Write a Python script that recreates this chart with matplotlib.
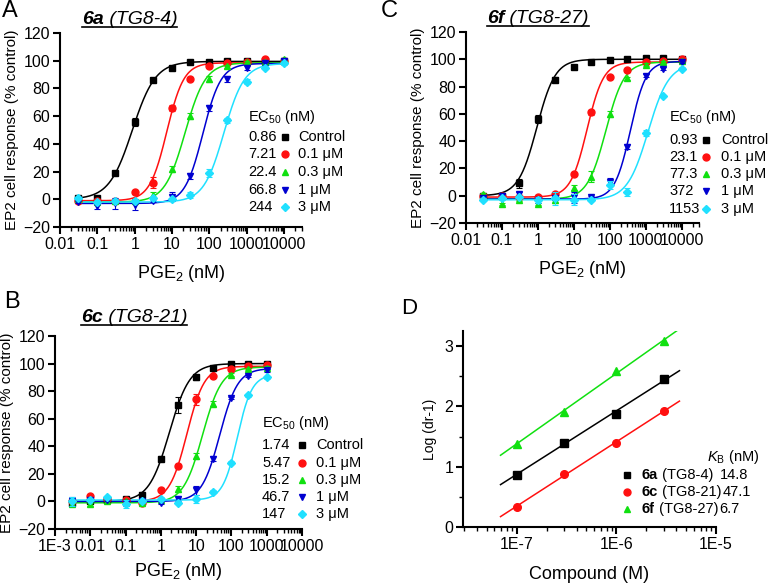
import numpy as np
import matplotlib
matplotlib.use('Agg')
import matplotlib.pyplot as plt
from matplotlib.ticker import FixedLocator, FixedFormatter, LogLocator, NullFormatter, MultipleLocator
from matplotlib.lines import Line2D

plt.rcParams['font.family'] = ['Liberation Sans', 'DejaVu Sans']
plt.rcParams['mathtext.fontset'] = 'custom'
plt.rcParams['mathtext.rm'] = 'Liberation Sans'
plt.rcParams['mathtext.it'] = 'Liberation Sans:italic'
plt.rcParams['mathtext.bf'] = 'Liberation Sans:bold'

# ---------------- data ----------------
series_labels = ['Control', '0.1 μM', '0.3 μM', '1 μM', '3 μM']
colors = ['#000000', '#FF1010', '#10E010', '#0000D0', '#20E0FF']
markers = ['s', 'o', '^', 'v', 'D']

# Panel A : 6a (TG8-4)
dose_A = [0.03, 0.1, 0.3, 1, 3, 10, 30, 100, 300, 1000, 3000, 10000]
resp_A = [
    [1, 1, 19, 56, 86, 95, 99, 99, 100, 100, 100, 100],
    [-1, -1, -1, 5, 12, 66, 87, 96, 98, 99, 101, 100],
    [0, -2, -1, -1, 3, 22, 60, 87, 96, 99, 99, 101],
    [-2, -5, -3, -4, -1, 2, 17, 66, 87, 95, 98, 100],
    [1, -2, -1, -1, 1, 0, 3, 19, 57, 85, 95, 98],
]
err_A = [
    [1, 1, 1, 3, 1, 1, 1, 1, 1, 1, 1, 1],
    [1, 1, 1, 1, 4, 2, 1, 1, 1, 1, 1, 1],
    [1, 1, 1, 1, 2, 2, 2, 2, 1, 1, 1, 1],
    [1, 2, 4, 4, 1, 3, 2, 2, 2, 2, 1, 1],
    [1, 1, 1, 1, 1, 1, 2, 3, 2, 2, 1, 1],
]
ec50_A = [0.86, 7.21, 22.4, 66.8, 244]
ec50_text_A = ['0.86', '7.21', '22.4', '66.8', '244']
hill_A = [1.4, 1.9, 1.6, 1.8, 1.6]
bottom_A = [0, -1, -2, -3, -2]
top_A = [99.5, 98.5, 98.5, 98, 98]

# Panel B : 6c (TG8-21)
dose_B = [0.003, 0.01, 0.03, 0.1, 0.3, 1, 3, 10, 30, 100, 300, 1000]
resp_B = [
    [-1, 0, 1, 2, 5, 31, 70, 90, 97, 100, 100, 100],
    [0, 4, 2, 1, -1, 8, 26, 74, 91, 96, 98, 99],
    [-2, -2, 0, 0, -1, 1, 9, 33, 71, 92, 96, 97],
    [0, 1, 1, -1, 0, -1, 2, 8, 31, 75, 91, 95],
    [0, 1, 3, -2, 0, 2, -1, 2, 7, 28, 77, 90],
]
err_B = [
    [1, 1, 1, 1, 2, 2, 6, 2, 1, 1, 1, 1],
    [1, 1, 1, 1, 1, 1, 1, 4, 1, 1, 1, 1],
    [1, 1, 1, 1, 1, 1, 2, 2, 2, 1, 1, 1],
    [3, 1, 1, 2, 1, 1, 2, 3, 2, 1, 1, 1],
    [3, 1, 1, 3, 1, 1, 1, 3, 1, 1, 1, 1],
]
ec50_B = [1.74, 5.47, 15.2, 46.7, 147]
ec50_text_B = ['1.74', '5.47', '15.2', '46.7', '147']
hill_B = [1.5, 1.75, 1.6, 1.7, 2.1]
bottom_B = [0, 0, -1, 0, 1]
top_B = [100, 98, 97.5, 96.5, 92]

# Panel C : 6f (TG8-27)
dose_C = [0.03, 0.1, 0.3, 1, 3, 10, 30, 100, 300, 1000, 3000, 10000]
resp_C = [
    [0, 0, 9, 56, 85, 94, 98, 99.5, 100, 101, 101, 100],
    [0, 0, -1, -1, 1, 16, 61, 87, 92, 98, 99, 100],
    [1, -6, -3, -6, -3, 6, 14, 60, 86, 96, 98, 99],
    [-2, 0, 1, -3, -2, -1, -1, 10, 36, 88, 93, 98],
    [-3, -2, -1, -3, -2, -3, -3, 8, 3, 46, 73, 93],
]
err_C = [
    [1, 1, 3, 3, 2, 1, 1, 1, 1, 1, 1, 1],
    [1, 1, 1, 1, 1, 1, 2, 1, 1, 1, 1, 1],
    [1, 1, 1, 1, 2, 2, 4, 2, 1, 1, 1, 1],
    [1, 1, 2, 2, 1, 4, 1, 3, 2, 1, 1, 1],
    [1, 1, 1, 2, 5, 4, 1, 3, 3, 2, 1, 1],
]
ec50_C = [0.93, 23.1, 77.3, 372, 1153]
ec50_text_C = ['0.93', '23.1', '77.3', '372', '1153']
hill_C = [1.7, 1.9, 1.7, 2.0, 1.5]
bottom_C = [0, -1, -2.5, -2.5, -3]
top_C = [100, 98, 98, 98.5, 97]

# Panel D : Schild plot
conc_D = [1e-7, 3e-7, 1e-6, 3e-6]
logdr_D = [
    [0.87, 1.40, 1.88, 2.45],
    [0.33, 0.88, 1.40, 1.92],
    [1.38, 1.91, 2.59, 3.08],
]
schild_names = ['6a', '6c', '6f']
schild_codes = [' (TG8-4)', ' (TG8-21)', ' (TG8-27)']
kb_text = ['14.8', '47.1', '6.7']
schild_colors = ['#000000', '#FF1010', '#10E010']
schild_markers = ['s', 'o', '^']

xt_A = [0.01, 0.1, 1, 10, 100, 1000, 10000]
xtl_A = ['0.01', '0.1', '1', '10', '100', '1000', '10000']
xt_B = [0.001, 0.01, 0.1, 1, 10, 100, 1000, 10000]
xtl_B = ['1E-3', '0.01', '0.1', '1', '10', '100', '1000', '10000']
xt_D = [1e-7, 1e-6, 1e-5]
xtl_D = ['1E-7', '1E-6', '1E-5']

# ---------------- figure ----------------
W, H = 768, 583
fig = plt.figure(figsize=(W / 100, H / 100), dpi=100)


def P(x, y):
    return (x / W, 1 - y / H)


def add_axes(l, t, r, b):
    return fig.add_axes([l / W, 1 - b / H, (r - l) / W, (b - t) / H])


def style(ax):
    for s in ['top', 'right']:
        ax.spines[s].set_visible(False)
    for s in ['left', 'bottom']:
        ax.spines[s].set_linewidth(1.5)
    ax.tick_params(which='major', direction='out', length=5, width=1.5, labelsize=11.5, pad=2)
    ax.tick_params(which='minor', direction='out', length=3, width=1.0)


def dose_panel(ax, doses, resp, err, ec50, hill, bottom, top, xlim, xt, xtl, xpad):
    xs = np.logspace(np.log10(min(doses)), np.log10(max(doses)), 400)
    for i in range(5):
        y = bottom[i] + (top[i] - bottom[i]) / (1 + (ec50[i] / xs) ** hill[i])
        ax.plot(xs, y, color=colors[i], lw=1.1, zorder=2)
    for i in range(5):
        ax.errorbar(doses, resp[i], yerr=err[i], fmt=markers[i], color=colors[i],
                    ms=5 if markers[i] != 'D' else 4.5, mec=colors[i], capsize=2,
                    elinewidth=0.8, capthick=0.8, zorder=3 + i, clip_on=False)
    ax.set_xscale('log')
    ax.set_xlim(*xlim)
    ax.set_ylim(-20, 120)
    ax.yaxis.set_major_locator(MultipleLocator(20))
    ax.xaxis.set_major_locator(FixedLocator(xt))
    ax.xaxis.set_major_formatter(FixedFormatter(xtl))
    ax.xaxis.set_minor_locator(LogLocator(base=10, subs=np.arange(2, 10), numticks=30))
    ax.xaxis.set_minor_formatter(NullFormatter())
    style(ax)
    ax.set_ylabel('EP2 cell response (% control)', fontsize=11, labelpad=3)
    ax.set_xlabel('PGE$_2$ (nM)', fontsize=13, labelpad=xpad)


def legend_block(x_val, x_mark, x_lab, y_head, ys, vals):
    fig.text(*P(x_val, y_head), 'EC$_{50}$ (nM)', fontsize=10.5, va='center', ha='left')
    for i in range(5):
        fig.text(*P(x_val, ys[i]), vals[i], fontsize=10.5, va='center', ha='left')
        fig.add_artist(Line2D([x_mark / W], [1 - ys[i] / H], marker=markers[i], color=colors[i],
                              ms=5 if markers[i] != 'D' else 4.5, ls='none'))
        fig.text(*P(x_lab, ys[i]), series_labels[i], fontsize=10.5, va='center', ha='left')


# Panel A
axA = add_axes(60, 33, 302, 227)
dose_panel(axA, dose_A, resp_A, err_A, ec50_A, hill_A, bottom_A, top_A, (0.01, 30000), xt_A, xtl_A, 8)
legend_block(248, 285, 298, 117, [137, 154, 172, 190, 207], ec50_text_A)

# Panel C
axC = add_axes(466, 32, 699, 223)
dose_panel(axC, dose_C, resp_C, err_C, ec50_C, hill_C, bottom_C, top_C, (0.01, 30000), xt_A, xtl_A, 8)
legend_block(669, 706, 721, 117, [140, 157, 174, 191, 209], ec50_text_C)

# Panel B
axB = add_axes(55, 336, 302, 529)
dose_panel(axB, dose_B, resp_B, err_B, ec50_B, hill_B, bottom_B, top_B, (0.001, 10000), xt_B, xtl_B, 5)
legend_block(262, 302, 316, 423, [445, 463, 480, 497, 514], ec50_text_B)

# Panel D
axD = add_axes(463, 331, 716, 527)
xl = np.logspace(np.log10(6.9e-8), np.log10(4.3e-6), 50)
for i in range(3):
    k, b0 = np.polyfit(np.log10(conc_D), logdr_D[i], 1)
    axD.plot(xl, k * np.log10(xl) + b0, color=schild_colors[i], lw=1.1, zorder=2)
    axD.plot(conc_D, logdr_D[i], ls='none', marker=schild_markers[i], color=schild_colors[i],
             ms=5.5, zorder=3)
axD.set_xscale('log')
axD.set_xlim(2.9e-8, 1e-5)
axD.set_ylim(0, 3.25)
axD.yaxis.set_major_locator(FixedLocator([0, 1, 2, 3]))
axD.yaxis.set_minor_locator(FixedLocator([0.5, 1.5, 2.5]))
axD.xaxis.set_major_locator(FixedLocator(xt_D))
axD.xaxis.set_major_formatter(FixedFormatter(xtl_D))
axD.xaxis.set_minor_locator(LogLocator(base=10, subs=np.arange(2, 10), numticks=30))
axD.xaxis.set_minor_formatter(NullFormatter())
style(axD)
axD.set_ylabel('Log (dr-1)', fontsize=10, labelpad=5)
axD.set_xlabel('Compound (M)', fontsize=13, labelpad=10)

fig.text(*P(707, 457), '$K$$_{\\mathrm{B}}$ (nM)', fontsize=10.5, va='center', ha='left')
ysD = [475, 492, 509]
kb_x = [720, 719, 716]

# Panel letters
fig.text(*P(2, 0), 'A', fontsize=17, va='top', ha='left')
fig.text(*P(381, 0), 'C', fontsize=17, va='top', ha='left')
fig.text(*P(4, 291), 'B', fontsize=17, va='top', ha='left')
fig.text(*P(401, 298), 'D', fontsize=16, va='top', ha='left')

fig.canvas.draw()
renderer = fig.canvas.get_renderer()
inv = fig.transFigure.inverted()


def xr(t):
    bb = t.get_window_extent(renderer)
    return inv.transform((bb.x1, bb.y0))[0]


# Schild legend
for i in range(3):
    y = 1 - ysD[i] / H
    fig.add_artist(Line2D([627 / W], [y], marker=schild_markers[i], color=schild_colors[i],
                          ms=5, ls='none'))
    t1 = fig.text(642 / W, y, schild_names[i], fontsize=10.5, fontweight='bold', va='center', ha='left')
    fig.canvas.draw()
    t2 = fig.text(xr(t1), y, schild_codes[i], fontsize=10.5, va='center', ha='left')
    fig.canvas.draw()
    xv = max(kb_x[i] / W, xr(t2) + 1 / W)
    fig.text(xv, y, kb_text[i], fontsize=10.5, va='center', ha='left')

# Titles with underline
titles = [('6a', ' (TG8-4)', 82, 24), ('6f', ' (TG8-27)', 487, 23), ('6c', ' (TG8-21)', 81, 322)]
for bold, rest, x, yb in titles:
    yf = 1 - yb / H
    t1 = fig.text(x / W, yf, bold, fontsize=14, fontweight='bold', fontstyle='italic',
                  va='baseline', ha='left')
    fig.canvas.draw()
    t2 = fig.text(xr(t1), yf, rest, fontsize=14, fontstyle='italic', va='baseline', ha='left')
    fig.canvas.draw()
    x1 = xr(t2)
    yu = 1 - (yb + 3) / H
    fig.add_artist(Line2D([x / W, x1], [yu, yu], color='black', lw=1.2))

fig.savefig('out.png', dpi=100)
